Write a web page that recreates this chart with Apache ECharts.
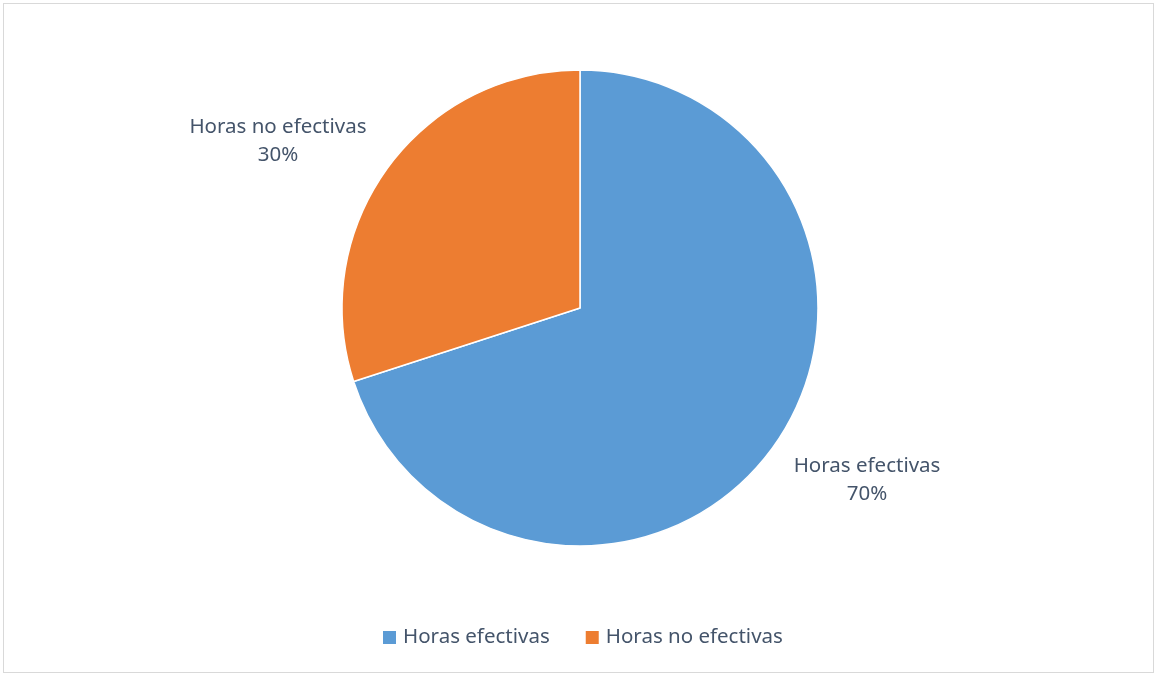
<!DOCTYPE html>
<html>
<head>
<meta charset="utf-8">
<script src="https://cdn.jsdelivr.net/npm/echarts@6/dist/echarts.min.js"></script>
<style>
  html, body { margin: 0; padding: 0; background: #ffffff; }
  #frame { position: absolute; left: 3px; top: 3px; width: 1151px; height: 670px; border: 1px solid #d9d9d9; box-sizing: border-box; }
  #chart { position: absolute; left: 0; top: 0; width: 1156px; height: 675px; }
</style>
</head>
<body>
<div id="frame"></div>
<div id="chart"></div>
<script>
// Distribution of working hours
const categories = ['Horas efectivas', 'Horas no efectivas'];
const values = [70, 30];
const colors = ['#5b9bd5', '#ed7d31'];

const FONT = 'Noto Sans';
const TEXT = '#44546a';
const CENTER = [580, 308];

const chart = echarts.init(document.getElementById('chart'), null, { renderer: 'canvas' });

const option = {
  animation: false,
  color: colors,
  legend: {
    top: 622,
    left: 376,
    itemWidth: 15,
    itemHeight: 15,
    itemGap: 34,
    icon: 'rect',
    textStyle: { fontFamily: FONT, fontSize: 20.5, color: TEXT, padding: [0, 0, 0, 1] },
    data: categories
  },
  series: [{
    type: 'pie',
    center: CENTER,
    radius: [0, 238],
    startAngle: 90,
    clockwise: true,
    avoidLabelOverlap: false,
    itemStyle: { borderColor: '#ffffff', borderWidth: 1.5 },
    label: {
      show: true,
      position: 'outside',
      formatter: '{b}\n{d}%',
      fontFamily: FONT,
      fontSize: 20.5,
      lineHeight: 28,
      color: TEXT,
      align: 'center'
    },
    labelLine: { show: false, length: 55, length2: 52 },
    labelLayout: function (p) {
      const pts = p.labelLinePoints;
      if (!pts) return {};
      const end = pts[2];
      const left = end[0] < CENTER[0];
      return {
        x: end[0] + (left ? -13 : -2),
        y: end[1] + (left ? 5 : 0),
        align: 'center',
        verticalAlign: 'middle'
      };
    },
    data: categories.map((name, i) => ({ name: name, value: values[i] }))
  }]
};

chart.setOption(option);
</script>
</body>
</html>
